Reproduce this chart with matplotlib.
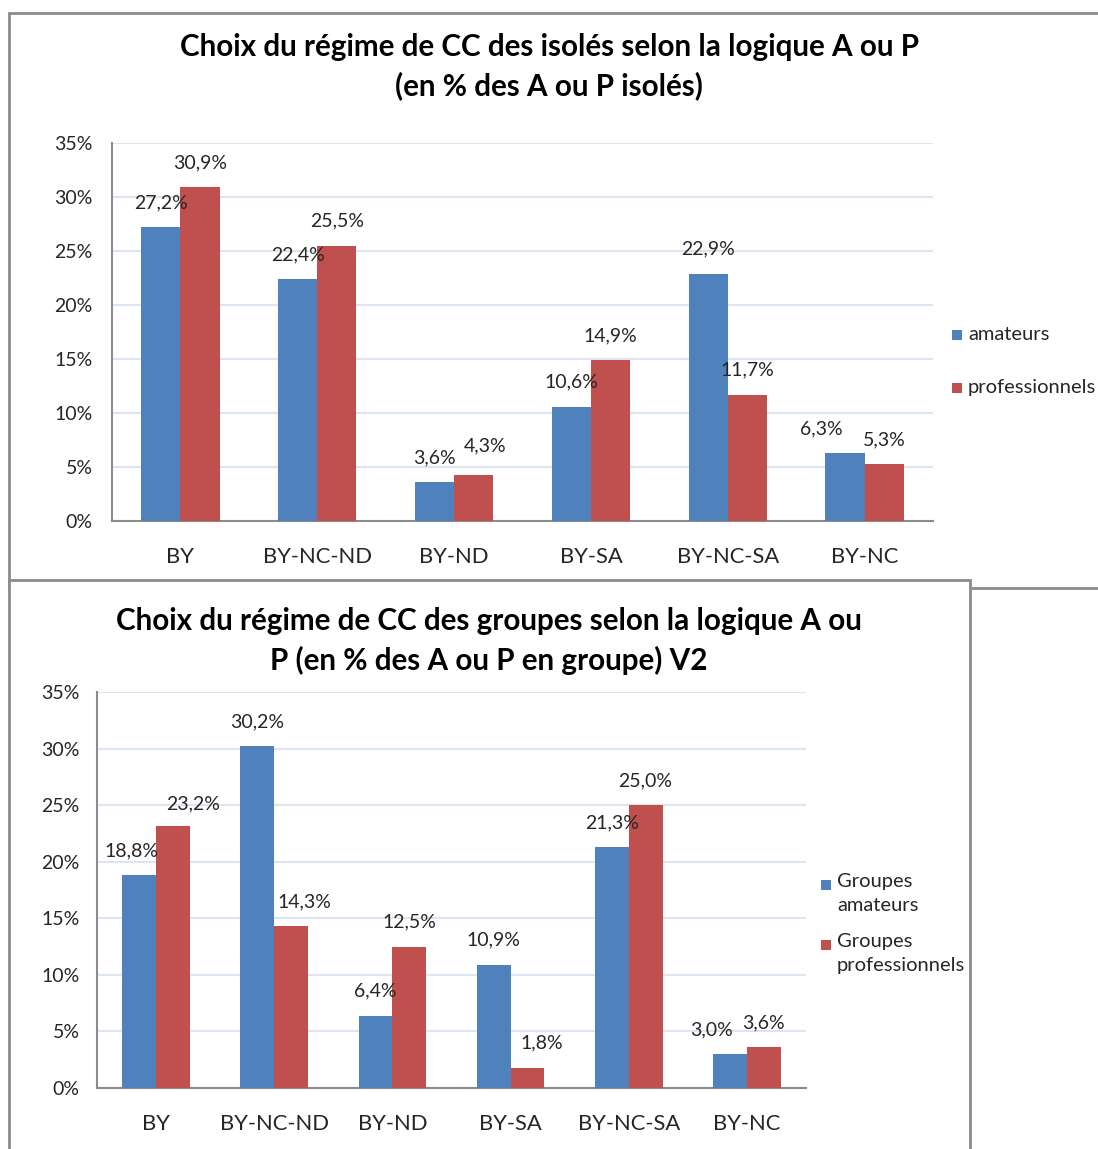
import matplotlib
matplotlib.use("Agg")
import matplotlib.pyplot as plt
from matplotlib.patches import Rectangle
import numpy as np

plt.rcParams['font.family'] = ['Lato', 'DejaVu Sans']

categories = ["BY", "BY-NC-ND", "BY-ND", "BY-SA", "BY-NC-SA", "BY-NC"]
top_amateurs = [27.2, 22.4, 3.6, 10.6, 22.9, 6.3]
top_pros = [30.9, 25.5, 4.3, 14.9, 11.7, 5.3]
bot_amateurs = [18.8, 30.2, 6.4, 10.9, 21.3, 3.0]
bot_pros = [23.2, 14.3, 12.5, 1.8, 25.0, 3.6]
yticks = [0, 5, 10, 15, 20, 25, 30, 35]

top_title = "Choix du régime de CC des isolés selon la logique A ou P\n(en % des A ou P isolés)"
bot_title = "Choix du régime de CC des groupes selon la logique A ou\nP (en % des A ou P en groupe) V2"
top_legend = ["amateurs", "professionnels"]
bot_legend = ["Groupes\namateurs", "Groupes\nprofessionnels"]

# manual data-label nudges (pixels, dx, dy up) as in the reference layout
top_a_nudge = [(0, 0), (0, 0), (0, 0), (0, 0), (0, 0), (-24, 0)]
top_p_nudge = [(0, 0), (0, 0), (11, 4), (0, 0), (0, 0), (0, 0)]
bot_a_nudge = [(-8, 0), (0, 0), (0, 0), (0, 0), (0, 0), (-19, 0)]
bot_p_nudge = [(20, -3), (13, 0), (0, 0), (14, 0), (0, 0), (0, 0)]

BLUE = "#4F81BD"
RED = "#C0504D"
GRID = "#DCE6F2"
AXIS = "#8C8C8C"
FRAME = "#8C8C8C"
TXT = "#262626"

W, H = 1098, 1149
fig = plt.figure(figsize=(W / 100, H / 100), dpi=100)
fig.patch.set_facecolor("white")

def px_rect(x0, y0, x1, y1, **kw):
    return Rectangle((x0 / W, 1 - y1 / H), (x1 - x0) / W, (y1 - y0) / H,
                     transform=fig.transFigure, **kw)

# frames
fig.patches.append(px_rect(9, 13, 1110, 588, facecolor="white", edgecolor=FRAME, lw=2, zorder=0))
fig.patches.append(px_rect(9, 580, 970, 1170, facecolor="white", edgecolor=FRAME, lw=2, zorder=1))

def make_axes(x0, y0, x1, y1):
    ax = fig.add_axes([x0 / W, 1 - y1 / H, (x1 - x0) / W, (y1 - y0) / H])
    ax.set_zorder(2)
    ax.patch.set_alpha(0)
    return ax

def labels(ax, xs, vals, nudges):
    for xi, v, (dx, dy) in zip(xs, vals, nudges):
        ax.annotate(f"{v:.1f}%".replace(".", ","), (xi, v),
                    xytext=(dx * 0.72, 17.5 + dy * 0.72),
                    textcoords="offset points", ha="center", va="center",
                    fontsize=14, color=TXT, zorder=5)

def draw(ax, a, p, an, pn, ypad):
    x = np.arange(len(categories))
    bw = 0.2857
    ax.bar(x - bw / 2, a, bw, color=BLUE, zorder=3)
    ax.bar(x + bw / 2, p, bw, color=RED, zorder=3)
    labels(ax, x - bw / 2, a, an)
    labels(ax, x + bw / 2, p, pn)
    ax.set_xlim(-0.5, len(categories) - 0.5)
    ax.set_ylim(0, 35)
    ax.set_yticks(yticks)
    ax.set_yticklabels([f"{t}%" for t in yticks], fontsize=14, color=TXT)
    ax.set_xticks(x)
    ax.set_xticklabels(categories, fontsize=15.8, color=TXT)
    ax.tick_params(axis="y", length=0, pad=ypad)
    ax.tick_params(axis="x", length=0, pad=19)
    ax.grid(axis="y", color=GRID, lw=1.5, zorder=0)
    ax.set_axisbelow(True)
    for s in ["top", "right"]:
        ax.spines[s].set_visible(False)
    for s in ["left", "bottom"]:
        ax.spines[s].set_color(AXIS)
        ax.spines[s].set_linewidth(1.5)

ax1 = make_axes(112, 143, 933, 521)
draw(ax1, top_amateurs, top_pros, top_a_nudge, top_p_nudge, 14)
ax2 = make_axes(97, 692, 806, 1088)
draw(ax2, bot_amateurs, bot_pros, bot_a_nudge, bot_p_nudge, 12.5)

# titles
fig.text(549 / W, 1 - 67 / H, top_title, ha="center", va="center", fontsize=21.3,
         fontweight="bold", color="black", linespacing=1.42, zorder=5)
fig.text(489 / W, 1 - 641 / H, bot_title, ha="center", va="center", fontsize=21.3,
         fontweight="bold", color="black", linespacing=1.42, zorder=5)

# legends
def legend_item(x, y, color, label):
    fig.patches.append(px_rect(x - 5, y - 5, x + 5, y + 5, facecolor=color, edgecolor="none", zorder=5))
    fig.text((x + 11) / W, 1 - y / H, label, ha="left", va="center",
             fontsize=14.5, color=TXT, zorder=5)

legend_item(957, 335, BLUE, top_legend[0])
legend_item(957, 388, RED, top_legend[1])

def legend_item2(x, y, color, label):
    fig.patches.append(px_rect(x - 5, y - 5, x + 5, y + 5, facecolor=color, edgecolor="none", zorder=5))
    fig.text((x + 11) / W, 1 - (y - 12) / H, label, ha="left", va="top",
             fontsize=14.5, color=TXT, linespacing=1.5, zorder=5)

legend_item2(826, 885, BLUE, bot_legend[0])
legend_item2(826, 945, RED, bot_legend[1])

fig.savefig("out.png", dpi=100, facecolor="white")
